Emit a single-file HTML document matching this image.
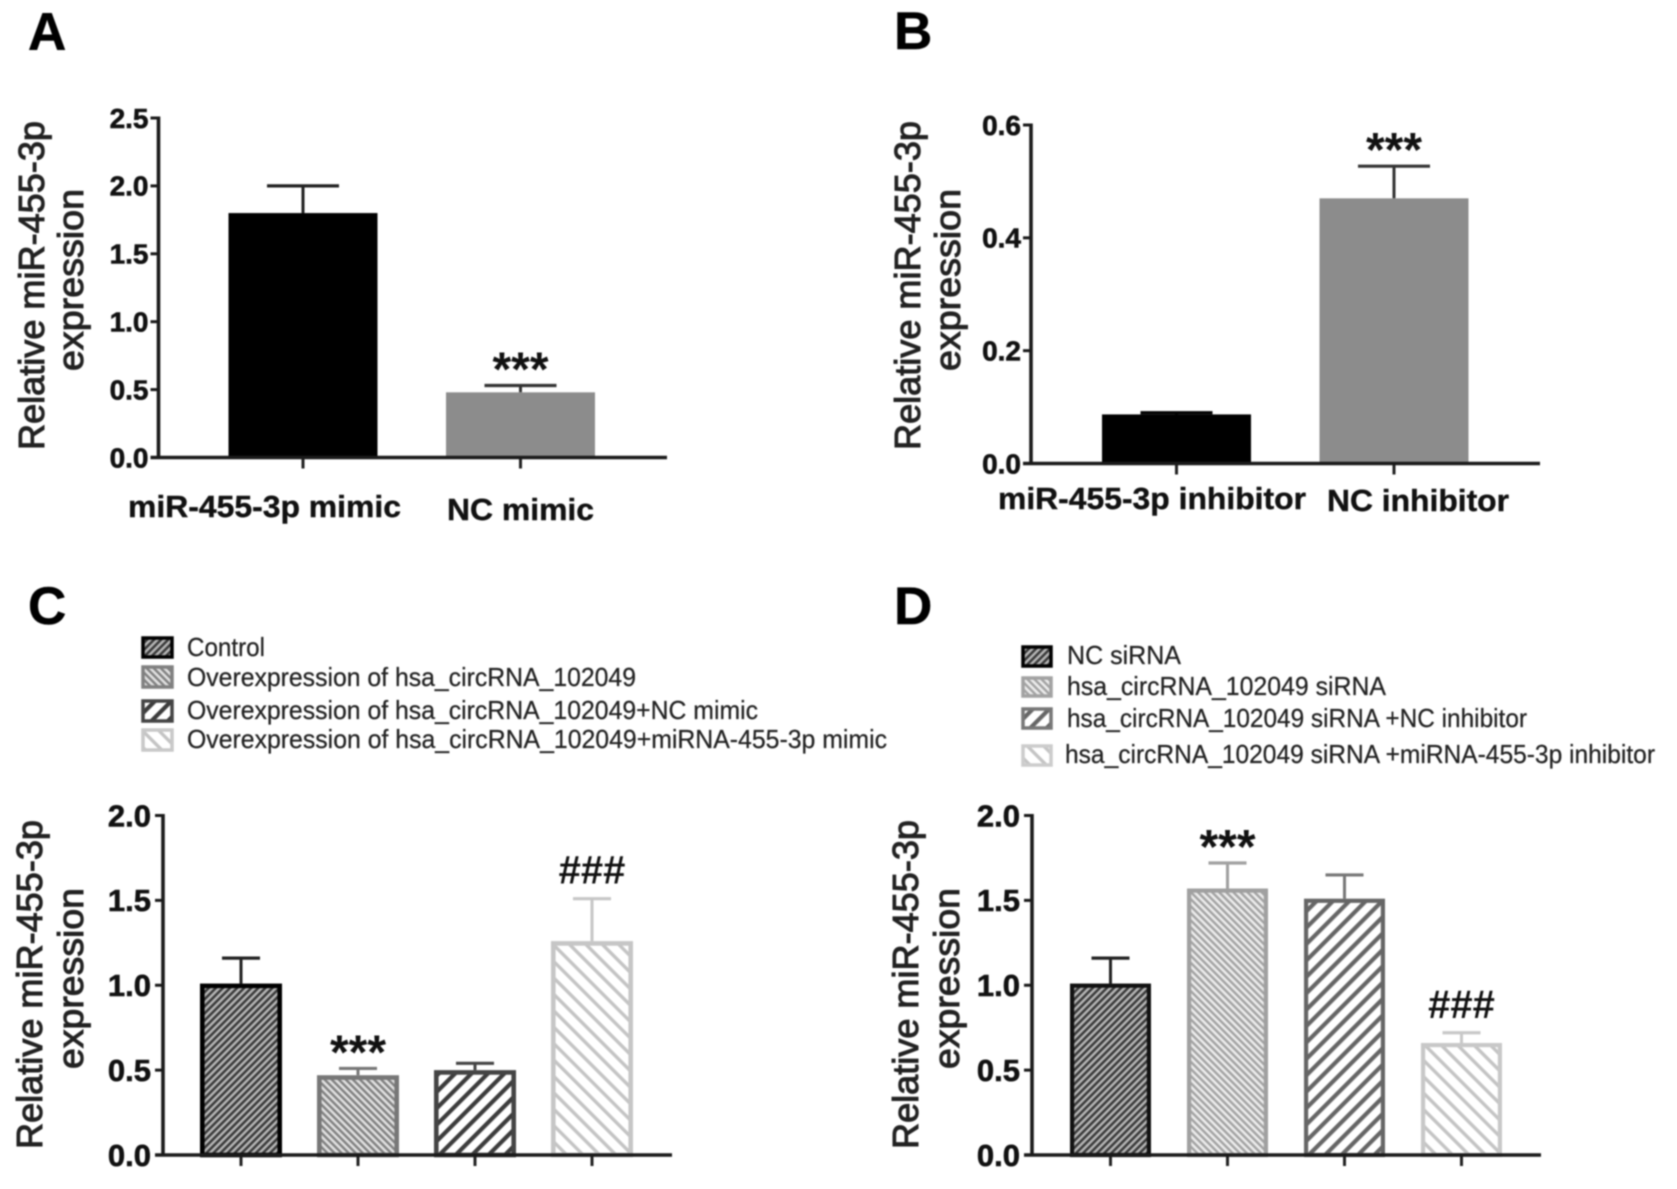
<!DOCTYPE html>
<html lang="en">
<head>
<meta charset="utf-8">
<title>miR-455-3p relative expression</title>
<style>
html,body{margin:0;padding:0;background:#fff;width:1677px;height:1189px;overflow:hidden}
svg{display:block;filter:blur(.9px)}
text{font-family:"Liberation Sans",sans-serif;fill:#111}
.letter{font-size:53px;font-weight:700;fill:#000;stroke:#000;stroke-width:.5px}
.ytitle{font-size:36px;stroke:#222;stroke-width:1px;fill:#222}
.tick{font-weight:700;text-anchor:end;stroke:#111;stroke-width:.6px}
.xlab{font-size:31px;font-weight:700;stroke:#111;stroke-width:.4px}
.leg{font-size:26px;fill:#222;stroke:#222;stroke-width:.25px}
</style>
</head>
<body>
<svg id="fig" xmlns="http://www.w3.org/2000/svg" width="1677" height="1189" viewBox="0 0 1677 1189">
  <defs>
    <pattern id="hA" width="5" height="5" patternUnits="userSpaceOnUse" patternTransform="rotate(45)"><rect width="5" height="5" fill="#b5b5b5"/><rect width="2.5" height="5" fill="#3a3a3a"/></pattern>
    <pattern id="hB" width="5" height="5" patternUnits="userSpaceOnUse" patternTransform="rotate(-45)"><rect width="5" height="5" fill="#e0e0e0"/><rect width="2.4" height="5" fill="#808080"/></pattern>
    <pattern id="hC" width="11.6" height="11.6" patternUnits="userSpaceOnUse" patternTransform="rotate(45)"><rect width="11.6" height="11.6" fill="#fff"/><rect width="4.2" height="11.6" fill="#3c3c3c"/></pattern>
    <pattern id="hD" width="11.6" height="11.6" patternUnits="userSpaceOnUse" patternTransform="rotate(-45)"><rect width="11.6" height="11.6" fill="#fff"/><rect width="3.4" height="11.6" fill="#c4c4c4"/></pattern>
    <pattern id="hB2" width="5" height="5" patternUnits="userSpaceOnUse" patternTransform="rotate(-45)"><rect width="5" height="5" fill="#ececec"/><rect width="2.4" height="5" fill="#a2a2a2"/></pattern>
    <pattern id="hC2" width="11.6" height="11.6" patternUnits="userSpaceOnUse" patternTransform="rotate(45)"><rect width="11.6" height="11.6" fill="#fff"/><rect width="4.2" height="11.6" fill="#666"/></pattern>
  </defs>

  <text class="letter" x="28" y="50">A</text>
  <text class="letter" x="894" y="49">B</text>
  <text class="letter" x="28" y="624">C</text>
  <text class="letter" x="894" y="624">D</text>

  <g>
    <text class="ytitle" transform="rotate(-90 44 450)" x="44" y="450" textLength="329" lengthAdjust="spacingAndGlyphs">Relative miR-455-3p</text>
    <text class="ytitle" transform="rotate(-90 83 371)" x="83" y="371" textLength="182" lengthAdjust="spacingAndGlyphs">expression</text>
  </g>
  <g>
    <text class="ytitle" transform="rotate(-90 920 450)" x="920" y="450" textLength="329" lengthAdjust="spacingAndGlyphs">Relative miR-455-3p</text>
    <text class="ytitle" transform="rotate(-90 960 371)" x="960" y="371" textLength="182" lengthAdjust="spacingAndGlyphs">expression</text>
  </g>
  <g>
    <text class="ytitle" transform="rotate(-90 42 1149)" x="42" y="1149" textLength="329" lengthAdjust="spacingAndGlyphs">Relative miR-455-3p</text>
    <text class="ytitle" transform="rotate(-90 83 1069)" x="83" y="1069" textLength="181" lengthAdjust="spacingAndGlyphs">expression</text>
  </g>
  <g>
    <text class="ytitle" transform="rotate(-90 918 1149)" x="918" y="1149" textLength="329" lengthAdjust="spacingAndGlyphs">Relative miR-455-3p</text>
    <text class="ytitle" transform="rotate(-90 959 1069)" x="959" y="1069" textLength="181" lengthAdjust="spacingAndGlyphs">expression</text>
  </g>

  <text class="xlab" x="128" y="517" textLength="273" lengthAdjust="spacingAndGlyphs">miR-455-3p mimic</text>
  <text class="xlab" x="447" y="520" textLength="147" lengthAdjust="spacingAndGlyphs">NC mimic</text>
  <text class="xlab" x="998" y="509" textLength="308" lengthAdjust="spacingAndGlyphs">miR-455-3p inhibitor</text>
  <text class="xlab" x="1327" y="511" textLength="182" lengthAdjust="spacingAndGlyphs">NC inhibitor</text>

  <g>
    <g>
      <rect x="143" y="638" width="29" height="19" fill="url(#hA)" stroke="#000" stroke-width="3.5"/>
      <text class="leg" x="187" y="656" textLength="78" lengthAdjust="spacingAndGlyphs">Control</text>
    </g>
    <g>
      <rect x="143" y="667" width="29" height="20" fill="url(#hB)" stroke="#808080" stroke-width="3.5"/>
      <text class="leg" x="187" y="686" textLength="449" lengthAdjust="spacingAndGlyphs">Overexpression of hsa_circRNA_102049</text>
    </g>
    <g>
      <rect x="143" y="701" width="29" height="20" fill="url(#hC)" stroke="#444" stroke-width="3.5"/>
      <text class="leg" x="187" y="719" textLength="571" lengthAdjust="spacingAndGlyphs">Overexpression of hsa_circRNA_102049+NC mimic</text>
    </g>
    <g>
      <rect x="143" y="730" width="29" height="20" fill="url(#hD)" stroke="#c8c8c8" stroke-width="3.5"/>
      <text class="leg" x="187" y="748" textLength="700" lengthAdjust="spacingAndGlyphs">Overexpression of hsa_circRNA_102049+miRNA-455-3p mimic</text>
    </g>
  </g>

  <g>
    <g>
      <rect x="1023" y="647" width="28" height="19" fill="url(#hA)" stroke="#000" stroke-width="3.5"/>
      <text class="leg" x="1067" y="664" textLength="114" lengthAdjust="spacingAndGlyphs">NC siRNA</text>
    </g>
    <g>
      <rect x="1023" y="678" width="28" height="18" fill="url(#hB2)" stroke="#a2a2a2" stroke-width="3.5"/>
      <text class="leg" x="1067" y="695" textLength="319" lengthAdjust="spacingAndGlyphs">hsa_circRNA_102049 siRNA</text>
    </g>
    <g>
      <rect x="1023" y="709" width="28" height="19" fill="url(#hC2)" stroke="#777" stroke-width="3.5"/>
      <text class="leg" x="1067" y="727" textLength="460" lengthAdjust="spacingAndGlyphs">hsa_circRNA_102049 siRNA +NC inhibitor</text>
    </g>
    <g>
      <rect x="1023" y="746" width="28" height="19" fill="url(#hD)" stroke="#ccc" stroke-width="3.5"/>
      <text class="leg" x="1065" y="763" textLength="590" lengthAdjust="spacingAndGlyphs">hsa_circRNA_102049 siRNA +miRNA-455-3p inhibitor</text>
    </g>
  </g>
</svg>

<script>
// Chart data
const panelATicks = ['0.0', '0.5', '1.0', '1.5', '2.0', '2.5'];
const panelAMeans = [1.80, 0.48];
const panelAErrorTops = [2.00, 0.53];
const panelAMarks = ['', '***'];

const panelBTicks = ['0.0', '0.2', '0.4', '0.6'];
const panelBMeans = [0.087, 0.47];
const panelBErrorTops = [0.09, 0.527];
const panelBMarks = ['', '***'];

const panelCTicks = ['0.0', '0.5', '1.0', '1.5', '2.0'];
const panelCMeans = [1.01, 0.47, 0.50, 1.26];
const panelCErrorTops = [1.16, 0.51, 0.54, 1.51];
const panelCMarks = ['', '***', '', '###'];

const panelDTicks = ['0.0', '0.5', '1.0', '1.5', '2.0'];
const panelDMeans = [1.01, 1.57, 1.51, 0.66];
const panelDErrorTops = [1.16, 1.72, 1.65, 0.72];
const panelDMarks = ['', '***', '', '###'];

const svg = document.getElementById('fig');
const NS = 'http://www.w3.org/2000/svg';

function make(tag, attrs, parent) {
  const node = document.createElementNS(NS, tag);
  for (const key in attrs) node.setAttribute(key, attrs[key]);
  parent.appendChild(node);
  return node;
}

function drawPanel(p) {
  const group = make('g', {}, svg);
  
  

  const maxValue = parseFloat(p.ticks[p.ticks.length - 1]);
  const yScale = function (v) { return p.y0 - (v / maxValue) * (p.y0 - p.yTop); };
  const xLeft = function (i) { return p.barStart + i * p.barStep; };

  p.means.forEach(function (mean, i) {
    const cx = xLeft(i) + p.barWidth / 2;

    const errLine = make('line', { x1: cx, x2: cx, y1: yScale(mean), y2: yScale(p.errorTops[i]), stroke: p.errorColors[i], 'stroke-width': 3 }, group);
    
    

    const errCap = make('line', { x1: cx - p.capHalf, x2: cx + p.capHalf, y1: yScale(p.errorTops[i]), y2: yScale(p.errorTops[i]), stroke: p.errorColors[i], 'stroke-width': 3.2 }, group);
    
    

    const inset = p.barStroke / 2;
    const bar = make('rect', {
      x: xLeft(i) + inset,
      y: yScale(mean) + inset,
      width: p.barWidth - 2 * inset,
      height: Math.max(0, p.y0 - yScale(mean) - inset),
      fill: p.fills[i],
      stroke: p.barStroke ? p.strokes[i] : 'none',
      'stroke-width': p.barStroke
    }, group);
    
    

    if (p.marks[i]) {
      const isHash = p.marks[i].charAt(0) === '#';
      const mark = make('text', {
        x: cx,
        y: yScale(p.errorTops[i]) + (isHash ? -15 : 0),
        'text-anchor': 'middle',
        'font-size': isHash ? 40 : 48,
        'font-weight': 700
      }, group);
      mark.textContent = p.marks[i];
      
      
    }

    const xTick = make('line', { x1: cx, x2: cx, y1: p.y0, y2: p.y0 + 11, stroke: '#222', 'stroke-width': 3 }, group);
    
    
  });

  const yAxis = make('line', { x1: p.axisX, x2: p.axisX, y1: p.yTop - 1.5, y2: p.y0 + 1.5, stroke: '#1a1a1a', 'stroke-width': 3.6 }, group);
  
  

  const xAxis = make('line', { x1: p.axisX - 8, x2: p.xEnd, y1: p.y0, y2: p.y0, stroke: '#1a1a1a', 'stroke-width': 3.6 }, group);
  
  

  p.ticks.forEach(function (label) {
    const y = yScale(parseFloat(label));
    const tick = make('line', { x1: p.axisX - 8, x2: p.axisX, y1: y, y2: y, stroke: '#1a1a1a', 'stroke-width': 3 }, group);
    
    

    const text = make('text', { class: 'tick', x: p.axisX - p.tickGap, y: y + p.tickSize * 0.35, 'font-size': p.tickSize }, group);
    text.textContent = label;
    
    
  });
}

drawPanel({
  name: 'panel-a-chart', ticks: panelATicks, means: panelAMeans, errorTops: panelAErrorTops, marks: panelAMarks,
  axisX: 158.5, yTop: 118, y0: 457.5, xEnd: 667, barStart: 228.5, barStep: 217.5, barWidth: 149, capHalf: 36,
  barStroke: 0, tickSize: 28, tickGap: 10, fills: ['#000', '#8c8c8c'], strokes: ['#000', '#8c8c8c'], errorColors: ['#222', '#333']
});
drawPanel({
  name: 'panel-b-chart', ticks: panelBTicks, means: panelBMeans, errorTops: panelBErrorTops, marks: panelBMarks,
  axisX: 1031, yTop: 125, y0: 463.5, xEnd: 1540, barStart: 1102, barStep: 217.5, barWidth: 149, capHalf: 36,
  barStroke: 0, tickSize: 28, tickGap: 10, fills: ['#000', '#8c8c8c'], strokes: ['#000', '#8c8c8c'], errorColors: ['#000', '#333']
});
drawPanel({
  name: 'panel-c-chart', ticks: panelCTicks, means: panelCMeans, errorTops: panelCErrorTops, marks: panelCMarks,
  axisX: 163, yTop: 815.5, y0: 1155, xEnd: 672, barStart: 200, barStep: 117, barWidth: 82, capHalf: 19,
  barStroke: 4.6, tickSize: 31, tickGap: 12, fills: ['url(#hA)', 'url(#hB)', 'url(#hC)', 'url(#hD)'], strokes: ['#000', '#777', '#444', '#c6c6c6'], errorColors: ['#222', '#777', '#444', '#c6c6c6']
});
drawPanel({
  name: 'panel-d-chart', ticks: panelDTicks, means: panelDMeans, errorTops: panelDErrorTops, marks: panelDMarks,
  axisX: 1032, yTop: 815.5, y0: 1155, xEnd: 1541, barStart: 1070, barStep: 117, barWidth: 81, capHalf: 19,
  barStroke: 4.2, tickSize: 31, tickGap: 12, fills: ['url(#hA)', 'url(#hB2)', 'url(#hC2)', 'url(#hD)'], strokes: ['#111', '#a0a0a0', '#666', '#c8c8c8'], errorColors: ['#222', '#a0a0a0', '#777', '#c8c8c8']
});
</script>
</body>
</html>
